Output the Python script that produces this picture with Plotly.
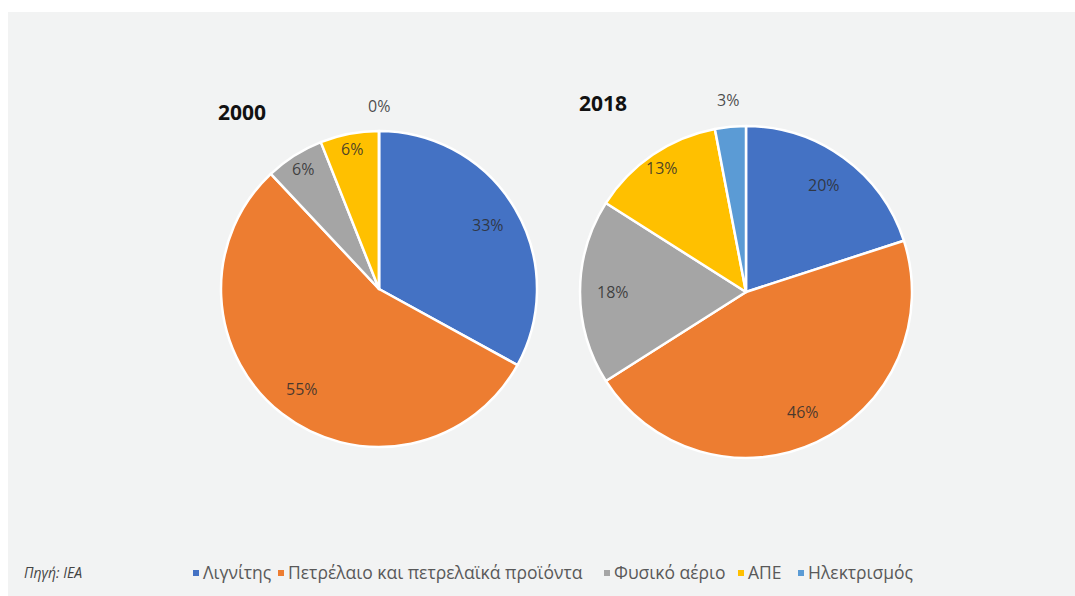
import math
import plotly.graph_objects as go

# Energy mix shares (%) for final consumption, 2000 vs 2018
categories = ["Λιγνίτης", "Πετρέλαιο και πετρελαϊκά προϊόντα", "Φυσικό αέριο", "ΑΠΕ", "Ηλεκτρισμός"]
shares_2000 = [33, 55, 6, 6, 0]
shares_2018 = [20, 46, 18, 13, 3]
years = ["2000", "2018"]

colors = ["#4472C4", "#ED7D31", "#A5A5A5", "#FFC000", "#5B9BD5"]

W, H = 1075, 596
FONT = "Open Sans"
LABEL_COLOR = "rgba(45,45,45,0.85)"


def px(x, y):
    return x / W, 1 - y / H


def dom(cx, cy, r):
    return dict(x=[(cx - r) / W, (cx + r) / W], y=[(H - cy - r) / H, (H - cy + r) / H])


def text_at(text, x, y, size, color, anchor="center", **kw):
    fx, fy = px(x, y)
    return dict(text=text, x=fx, y=fy, xref="paper", yref="paper",
                xanchor=anchor, yanchor="middle", showarrow=False,
                font=dict(family=FONT, size=size, color=color), **kw)


def slice_labels(vals, cx, cy, r):
    """Percent labels placed along each slice's bisector (clockwise from 12 o'clock)."""
    total = sum(vals)
    out = []
    start = 0.0
    for v in vals:
        sweep = 360.0 * v / total
        mid = math.radians(start + sweep / 2)
        start += sweep
        if v < 5:
            k = 1.16          # tiny slices: label sits just outside the rim
        elif v < 15:
            k = 0.9
        else:
            k = 0.8
        x = cx + k * r * math.sin(mid)
        y = cy - k * r * math.cos(mid)
        out.append(text_at(f"{v}%", x, y, 16, LABEL_COLOR))
    return out


pies = [
    (shares_2000, (379, 289, 158)),
    (shares_2018, (746, 292, 166)),
]

fig = go.Figure()
annotations = []
for vals, (cx, cy, r) in pies:
    fig.add_trace(go.Pie(
        labels=categories, values=vals, domain=dom(cx, cy, r),
        sort=False, direction="clockwise", rotation=0,
        marker=dict(colors=colors, line=dict(color="white", width=2.5)),
        textinfo="none", showlegend=False, hoverinfo="label+value",
    ))
    annotations += slice_labels(vals, cx, cy, r)

# year headings
for yr, (x, y) in zip(years, [(242, 112), (603, 103)]):
    annotations.append(text_at(f"<b>{yr}</b>", x, y, 21, "#111"))

annotations.append(text_at("<i>Πηγή: ΙΕΑ</i>", 22, 572, 14, "#444", anchor="left"))

# legend row: small colour square + category name
shapes = [dict(type="rect", xref="paper", yref="paper", x0=8 / W, x1=1, y0=0, y1=1 - 12 / H,
               fillcolor="#F2F3F3", line=dict(width=0), layer="below")]
legend_x = [193, 278, 604, 738, 798]
for c, name, lx in zip(colors, categories, legend_x):
    shapes.append(dict(type="rect", xref="paper", yref="paper",
                       x0=lx / W, x1=(lx + 6) / W, y0=1 - 576 / H, y1=1 - 570 / H,
                       fillcolor=c, line=dict(width=0)))
    annotations.append(text_at(name, lx + 8, 572, 17.5, "#595959", anchor="left"))

fig.update_layout(
    width=W, height=H,
    margin=dict(l=0, r=0, t=0, b=0),
    paper_bgcolor="white",
    plot_bgcolor="white",
    annotations=annotations,
    shapes=shapes,
)

fig.write_html("out.html")
